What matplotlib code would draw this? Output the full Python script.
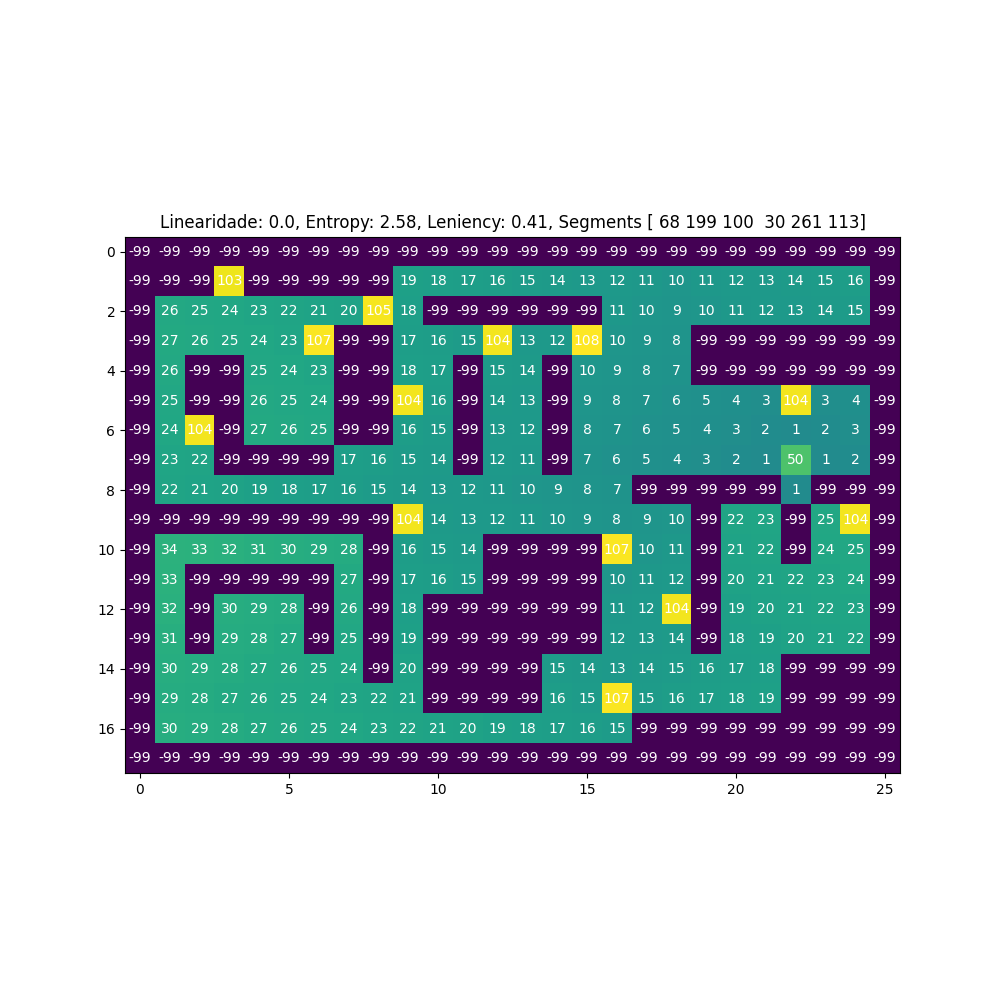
import numpy as np
import matplotlib
matplotlib.use("Agg")
import matplotlib.pyplot as plt

title_text = "Linearidade: 0.0, Entropy: 2.58, Leniency: 0.41, Segments [ 68 199 100  30 261 113]"

W = -99
row_0 = [W] * 26
row_1 = [W, W, W, 103, W, W, W, W, W, 19, 18, 17, 16, 15, 14, 13, 12, 11, 10, 11, 12, 13, 14, 15, 16, W]
row_2 = [W, 26, 25, 24, 23, 22, 21, 20, 105, 18, W, W, W, W, W, W, 11, 10, 9, 10, 11, 12, 13, 14, 15, W]
row_3 = [W, 27, 26, 25, 24, 23, 107, W, W, 17, 16, 15, 104, 13, 12, 108, 10, 9, 8, W, W, W, W, W, W, W]
row_4 = [W, 26, W, W, 25, 24, 23, W, W, 18, 17, W, 15, 14, W, 10, 9, 8, 7, W, W, W, W, W, W, W]
row_5 = [W, 25, W, W, 26, 25, 24, W, W, 104, 16, W, 14, 13, W, 9, 8, 7, 6, 5, 4, 3, 104, 3, 4, W]
row_6 = [W, 24, 104, W, 27, 26, 25, W, W, 16, 15, W, 13, 12, W, 8, 7, 6, 5, 4, 3, 2, 1, 2, 3, W]
row_7 = [W, 23, 22, W, W, W, W, 17, 16, 15, 14, W, 12, 11, W, 7, 6, 5, 4, 3, 2, 1, 50, 1, 2, W]
row_8 = [W, 22, 21, 20, 19, 18, 17, 16, 15, 14, 13, 12, 11, 10, 9, 8, 7, W, W, W, W, W, 1, W, W, W]
row_9 = [W, W, W, W, W, W, W, W, W, 104, 14, 13, 12, 11, 10, 9, 8, 9, 10, W, 22, 23, W, 25, 104, W]
row_10 = [W, 34, 33, 32, 31, 30, 29, 28, W, 16, 15, 14, W, W, W, W, 107, 10, 11, W, 21, 22, W, 24, 25, W]
row_11 = [W, 33, W, W, W, W, W, 27, W, 17, 16, 15, W, W, W, W, 10, 11, 12, W, 20, 21, 22, 23, 24, W]
row_12 = [W, 32, W, 30, 29, 28, W, 26, W, 18, W, W, W, W, W, W, 11, 12, 104, W, 19, 20, 21, 22, 23, W]
row_13 = [W, 31, W, 29, 28, 27, W, 25, W, 19, W, W, W, W, W, W, 12, 13, 14, W, 18, 19, 20, 21, 22, W]
row_14 = [W, 30, 29, 28, 27, 26, 25, 24, W, 20, W, W, W, W, 15, 14, 13, 14, 15, 16, 17, 18, W, W, W, W]
row_15 = [W, 29, 28, 27, 26, 25, 24, 23, 22, 21, W, W, W, W, 16, 15, 107, 15, 16, 17, 18, 19, W, W, W, W]
row_16 = [W, 30, 29, 28, 27, 26, 25, 24, 23, 22, 21, 20, 19, 18, 17, 16, 15, W, W, W, W, W, W, W, W, W]
row_17 = [W] * 26

grid = np.array([row_0, row_1, row_2, row_3, row_4, row_5, row_6, row_7, row_8,
                 row_9, row_10, row_11, row_12, row_13, row_14, row_15, row_16, row_17])

fig, ax = plt.subplots(figsize=(10, 10), dpi=100)
ax.imshow(grid, cmap="viridis")
for i in range(grid.shape[0]):
    for j in range(grid.shape[1]):
        ax.text(j, i, str(grid[i, j]), ha="center", va="center", color="w", fontsize=10)
ax.set_title(title_text)
fig.savefig("out.png", dpi=100)
